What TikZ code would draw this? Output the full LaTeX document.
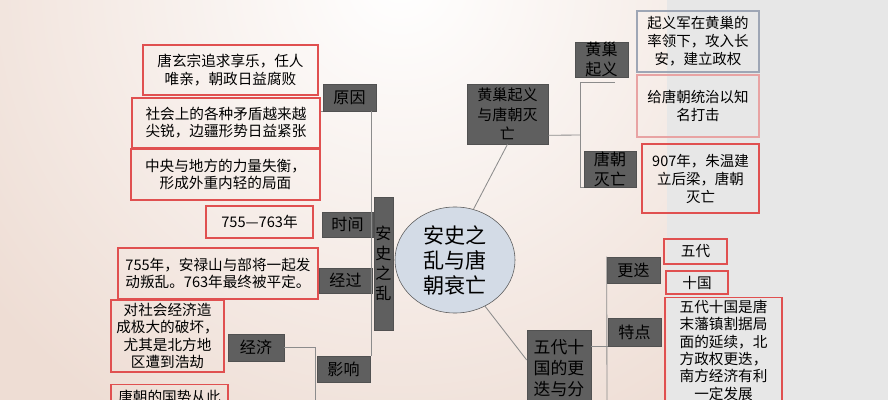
\documentclass[tikz,border=0pt]{standalone}
\usepackage{fontspec}
\setmainfont{Noto Sans CJK SC}
\usepackage{xcolor}
\usepackage{tikz}
\usetikzlibrary{shapes.geometric,positioning,calc}
\definecolor{darkbox}{HTML}{5F5F5F}
\definecolor{redline}{HTML}{E05050}
\definecolor{pinkline}{HTML}{E8A3A3}
\definecolor{blueline}{HTML}{9EA6B5}
\definecolor{ellfill}{HTML}{D3DBE6}
\definecolor{connline}{HTML}{8C8C8C}
\definecolor{bgouter}{HTML}{EEDDD4}
\definecolor{bggray}{HTML}{E7E7E7}

\begin{document}
\begin{tikzpicture}[x=0.025cm, y=-0.025cm, font=\fontsize{10.4}{12.2}\selectfont, dbox/.style={fill=darkbox, draw=darkbox!85!black, text=black, align=center, inner sep=0pt, font=\fontsize{11.4}{14.2}\selectfont}, rbox/.style={draw=redline, line width=0.9pt, text=black, align=center, inner sep=0pt}, conn/.style={draw=connline, line width=0.6pt}]
\useasboundingbox (0,0) rectangle (888,400);
\begin{scope}
\clip (0,0) rectangle (667,400);
\fill[bgouter] (0,0) rectangle (667,400);
\shade[inner color=white, outer color=bgouter] (400,-20) circle (520);
\end{scope}
\fill[bggray] (667,0) rectangle (888,400);
\clip (0,0) rectangle (888,400);

\node[rbox, minimum width=4.375cm, minimum height=1.25cm] (r1) at (230.5,70) {唐玄宗追求享乐，任人\\唯亲，朝政日益腐败};
\node[rbox, minimum width=4.7cm, minimum height=1.25cm] (r2) at (226,123) {社会上的各种矛盾越来越\\尖锐，边疆形势日益紧张};
\node[rbox, minimum width=4.725cm, minimum height=1.275cm] (r3) at (225.5,174.5) {中央与地方的力量失衡，\\形成外重内轻的局面};
\node[dbox, minimum width=1.325cm, minimum height=0.675cm] (yy) at (349.5,97.5) {原因};
\node[rbox, minimum width=2.675cm, minimum height=0.8cm] (r4) at (259.5,222) {755—763年};
\node[dbox, minimum width=1.275cm, minimum height=0.625cm] (sj) at (347.5,224.5) {时间};
\node[rbox, minimum width=5cm, minimum height=1.275cm] (r5) at (218,273.5) {755年，安禄山与部将一起发\\动叛乱。763年最终被平定。};
\node[dbox, minimum width=1.325cm, minimum height=0.625cm] (jg) at (345.5,280.5) {经过};
\node[dbox, minimum width=0.475cm, minimum height=3.325cm] (ay) at (383.5,263.5) {安\\史\\之\\乱};
\node[dbox, minimum width=1.325cm, minimum height=0.65cm] (yx) at (343.5,369) {影响};
\node[dbox, minimum width=1.4cm, minimum height=0.675cm] (jj) at (256,347.5) {经济};
\node[rbox, minimum width=2.825cm, minimum height=1.8cm] (r6) at (167.5,336) {对社会经济造\\成极大的破坏，\\尤其是北方地\\区遭到浩劫};
\node[rbox, anchor=north, minimum width=2.925cm, minimum height=0.6cm] (r7) at (169.5,384) {唐朝的国势从此};

\node[ellipse, draw=black!65, fill=ellfill, text=black, minimum width=3cm, minimum height=2.65cm, inner sep=0pt, align=center, font=\fontsize{15}{17.8}\selectfont] (cz) at (455,260) {安史之\\乱与唐\\朝衰亡};

\node[dbox, minimum width=2.025cm, minimum height=1.5cm, font=\fontsize{10.7}{14}\selectfont] (hc) at (507.5,114) {黄巢起义\\与唐朝灭\\亡};
\node[dbox, minimum width=1.325cm, minimum height=0.875cm] (hq) at (601.5,59.5) {黄巢\\起义};
\node[dbox, minimum width=1.3cm, minimum height=0.9cm] (tm) at (610,169) {唐朝\\灭亡};
\node[rbox, draw=blueline, minimum width=3.05cm, minimum height=1.525cm, font=\fontsize{10.3}{12.8}\selectfont] (b1) at (698,41.5) {起义军在黄巢的\\率领下，攻入长\\安，建立政权};
\node[rbox, draw=pinkline, minimum width=3.05cm, minimum height=1.55cm, font=\fontsize{10.3}{12.8}\selectfont] (b2) at (698,106) {给唐朝统治以知\\名打击};
\node[rbox, minimum width=2.925cm, minimum height=1.725cm, font=\fontsize{10.3}{12.8}\selectfont] (b3) at (700.5,178.5) {907年，朱温建\\立后梁，唐朝\\灭亡};

\node[dbox, anchor=north, minimum width=1.6cm, minimum height=1.9cm, font=\fontsize{12}{15}\selectfont] (wd) at (559,330) {五代十\\国的更\\迭与分};
\node[dbox, minimum width=1.325cm, minimum height=0.65cm] (gd) at (633.5,270) {更迭};
\node[dbox, minimum width=1.325cm, minimum height=0.7cm] (td) at (634.5,332) {特点};
\node[rbox, minimum width=1.575cm, minimum height=0.625cm] (w5) at (695.5,251.5) {五代};
\node[rbox, minimum width=1.55cm, minimum height=0.575cm] (sg) at (697,282.5) {十国};
\node[rbox, anchor=north, minimum width=2.925cm, minimum height=2.625cm, font=\fontsize{10.4}{12.4}\selectfont] (r8) at (723.5,297) {五代十国是唐\\末藩镇割据局\\面的延续，北\\方政权更迭，\\南方经济有利\\一定发展};

\draw[conn] (yy.south west) -- (r2.east |- yy.south);
\draw[conn] ($(yy.south east)+(-5,0)$) coordinate (ya) -- (ya |- yx.north);
\coordinate (yl) at (315,410);
\draw[conn] (jj.east) -| (yl);
\draw[conn] (cz.70) -- (hc.south);
\draw[conn] (cz.-57) -- ($(wd.north west)+(0,30)$);
\coordinate (hj) at (580,135);
\draw[conn] ($(hc.south east)+(0,-9)$) -- (hj);
\draw[conn] ($(hq.south)+(13,5)$) -| (hj |- tm.south) -- (tm.south west);
\coordinate (wj) at (607,410);
\draw[conn] (gd.north west) -- (wj);
\draw[conn] (wd.east |- td.south) -- (td.south west);
\end{tikzpicture}
\end{document}
